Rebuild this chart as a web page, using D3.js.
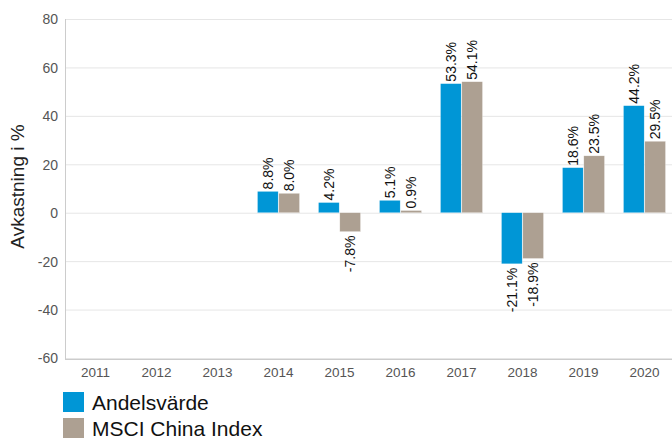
<!DOCTYPE html>
<html lang="sv">
<head>
<meta charset="UTF-8">
<title>Avkastning</title>
<script src="https://d3js.org/d3.v7.min.js"></script>
<style>
  html, body { margin: 0; padding: 0; background: #fff; }
  svg { display: block; font-family: "Liberation Sans", Arial, sans-serif; }
</style>
</head>
<body>
<svg id="chart" width="672" height="438"></svg>
<script>
const years = ["2011", "2012", "2013", "2014", "2015", "2016", "2017", "2018", "2019", "2020"];
const andelsvarde = [null, null, null, 8.8, 4.2, 5.1, 53.3, -21.1, 18.6, 44.2];
const msciChina = [null, null, null, 8.0, -7.8, 0.9, 54.1, -18.9, 23.5, 29.5];
const seriesNames = ["Andelsvärde", "MSCI China Index"];
const yTicks = [-60, -40, -20, 0, 20, 40, 60, 80];

const colors = ["#0096d6", "#ada092"];
const svg = d3.select("#chart");
const mLeft = 65, mRight = 675, mTop = 19, mBottom = 358;

const x = d3.scaleBand().domain(years).range([mLeft, mRight]);
const bw = x.bandwidth();
// two bars, ~42px wide together, centred in each year band
const x1 = d3.scaleBand().domain([0, 1]).range([bw / 2 - 21, bw / 2 + 21]).paddingInner(0.03);
const y = d3.scaleLinear().domain([-60, 80]).range([mBottom, mTop]);

// gridlines
svg.append("g").selectAll("line").data(yTicks).join("line")
  .attr("x1", mLeft).attr("x2", 672)
  .attr("y1", d => y(d) + 0.5).attr("y2", d => y(d) + 0.5)
  .attr("stroke", "#e6e6e6").attr("stroke-width", 1);

// y labels
svg.append("g").selectAll("text").data(yTicks).join("text")
  .attr("x", mLeft - 7).attr("y", d => y(d) + 0.5)
  .attr("dy", "0.35em").attr("text-anchor", "end")
  .attr("font-size", 14).attr("fill", "#555")
  .text(d => d);

// axis lines
svg.append("line").attr("x1", mLeft + 0.5).attr("x2", mLeft + 0.5)
  .attr("y1", mTop).attr("y2", mBottom + 1.5).attr("stroke", "#ccc");
svg.append("line").attr("x1", mLeft).attr("x2", 672)
  .attr("y1", mBottom + 1.5).attr("y2", mBottom + 1.5).attr("stroke", "#ccc");

// x labels
svg.append("g").selectAll("text").data(years).join("text")
  .attr("x", d => x(d) + bw / 2).attr("y", 377)
  .attr("text-anchor", "middle").attr("font-size", 13.5).attr("fill", "#555")
  .text(d => d);

// y title
svg.append("text")
  .attr("transform", `translate(24,${(mTop + mBottom) / 2 - 2}) rotate(-90)`)
  .attr("text-anchor", "middle").attr("font-size", 19).attr("fill", "#222")
  .text("Avkastning i %");

// bars
const data = [andelsvarde, msciChina];
data.forEach((vals, si) => {
  const pts = years.map((yr, i) => ({ yr, v: vals[i] })).filter(d => d.v !== null);
  const g = svg.append("g");
  g.selectAll("rect").data(pts).join("rect")
    .attr("x", d => x(d.yr) + x1(si))
    .attr("width", x1.bandwidth())
    .attr("y", d => y(Math.max(0, d.v)))
    .attr("height", d => Math.abs(y(d.v) - y(0)))
    .attr("fill", colors[si])
    .attr("stroke", "#fff").attr("stroke-opacity", 0.5).attr("stroke-width", 0.5);
  g.selectAll("text").data(pts).join("text")
    .attr("transform", d => {
      const cx = x(d.yr) + x1(si) + x1.bandwidth() / 2;
      const yy = d.v >= 0 ? y(d.v) - 2 : y(d.v) + 4;
      return `translate(${cx},${yy}) rotate(-90)`;
    })
    .attr("text-anchor", d => d.v >= 0 ? "start" : "end")
    .attr("dy", "0.35em").attr("font-size", 14).attr("fill", "#111")
    .text(d => d.v.toFixed(1) + "%");
});

// legend
const lg = svg.append("g").selectAll("g").data(seriesNames).join("g")
  .attr("transform", (d, i) => `translate(63,${392 + i * 26})`);
lg.append("rect").attr("width", 21).attr("height", 20).attr("fill", (d, i) => colors[i]);
lg.append("text").attr("x", 29).attr("y", 18).attr("font-size", 21).attr("fill", "#111").text(d => d);
</script>
</body>
</html>
